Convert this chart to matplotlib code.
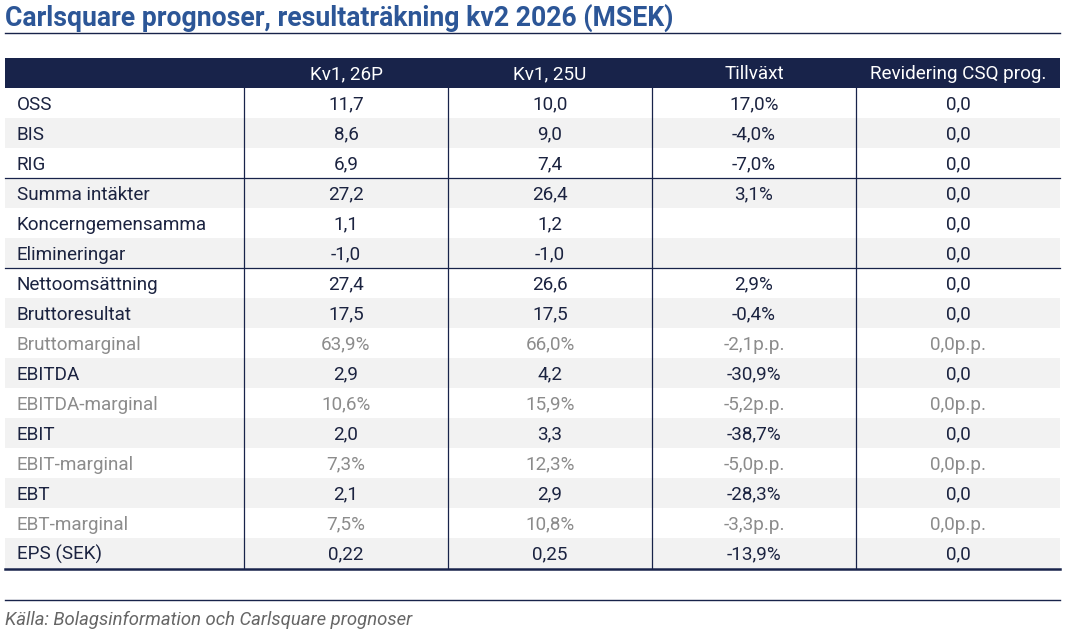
import matplotlib
matplotlib.use("Agg")
import matplotlib.pyplot as plt
from matplotlib.patches import Rectangle

title = "Carlsquare prognoser, resultaträkning kv2 2026 (MSEK)"
source = "Källa: Bolagsinformation och Carlsquare prognoser"
columns = ["Kv1, 26P", "Kv1, 25U", "Tillväxt", "Revidering CSQ prog."]
row_labels = ["OSS", "BIS", "RIG", "Summa intäkter", "Koncerngemensamma", "Elimineringar",
              "Nettoomsättning", "Bruttoresultat", "Bruttomarginal", "EBITDA", "EBITDA-marginal",
              "EBIT", "EBIT-marginal", "EBT", "EBT-marginal", "EPS (SEK)"]
kv1_26p = ["11,7", "8,6", "6,9", "27,2", "1,1", "-1,0", "27,4", "17,5", "63,9%", "2,9", "10,6%",
           "2,0", "7,3%", "2,1", "7,5%", "0,22"]
kv1_25u = ["10,0", "9,0", "7,4", "26,4", "1,2", "-1,0", "26,6", "17,5", "66,0%", "4,2", "15,9%",
           "3,3", "12,3%", "2,9", "10,8%", "0,25"]
tillvaxt = ["17,0%", "-4,0%", "-7,0%", "3,1%", "", "", "2,9%", "-0,4%", "-2,1p.p.", "-30,9%",
            "-5,2p.p.", "-38,7%", "-5,0p.p.", "-28,3%", "-3,3p.p.", "-13,9%"]
revidering = ["0,0", "0,0", "0,0", "0,0", "0,0", "0,0", "0,0", "0,0", "0,0p.p.", "0,0",
              "0,0p.p.", "0,0", "0,0p.p.", "0,0", "0,0p.p.", "0,0"]
grey_rows = ["Bruttomarginal", "EBITDA-marginal", "EBIT-marginal", "EBT-marginal"]
group_breaks = [3, 6]  # line above these row indices

W, H = 1066, 632
fig = plt.figure(figsize=(W / 100, H / 100), dpi=100)
ax = fig.add_axes([0, 0, 1, 1])
ax.set_xlim(0, W)
ax.set_ylim(H, 0)
ax.axis("off")

navy = "#18234A"
text_c = "#1B2340"
grey_c = "#8C8C8C"
stripe = "#F2F2F2"
font = "Roboto"
fs = 13.6

# title
ax.text(5, 18, title, fontsize=19.2, fontweight="bold", color="#2C5697",
        family=font, va="center", ha="left")
ax.plot([5, 1060], [32.5, 32.5], color=navy, lw=1.0)

col_x = [5, 244, 448, 652, 856, 1060]
top = 58
hdr_h = 30
row_h = 30
body_top = top + hdr_h

# header
ax.add_patch(Rectangle((col_x[0], top), col_x[-1] - col_x[0], hdr_h, color=navy, lw=0))
for j, c in enumerate(columns):
    cx = (col_x[j + 1] + col_x[j + 2]) / 2
    ax.text(cx, top + hdr_h / 2 + 1, c, color="white", fontsize=fs, family=font,
            ha="center", va="center")

data_cols = [kv1_26p, kv1_25u, tillvaxt, revidering]
n = len(row_labels)
for i, lab in enumerate(row_labels):
    y0 = body_top + i * row_h
    if i % 2 == 1:
        ax.add_patch(Rectangle((col_x[0], y0), col_x[-1] - col_x[0], row_h,
                               color=stripe, lw=0, zorder=0))
    color = grey_c if lab in grey_rows else text_c
    yc = y0 + row_h / 2 + 1.5
    ax.text(17, yc, lab, color=color, fontsize=fs, family=font, ha="left", va="center")
    for j, col in enumerate(data_cols):
        cx = (col_x[j + 1] + col_x[j + 2]) / 2
        ax.text(cx, yc, col[i], color=color, fontsize=fs, family=font,
                ha="center", va="center")

bottom = body_top + n * row_h
for gb in group_breaks:
    yb = body_top + gb * row_h
    ax.plot([col_x[0], col_x[-1]], [yb, yb], color=navy, lw=0.9, zorder=3)
for xv in col_x[1:-1]:
    ax.plot([xv, xv], [body_top, bottom], color=navy, lw=0.9, zorder=3)
ax.plot([col_x[0], col_x[-1]], [bottom + 1, bottom + 1], color=navy, lw=1.8, zorder=3)

# source
ax.plot([col_x[0], col_x[-1]], [600, 600], color=navy, lw=1.0)
ax.text(5, 620, source, color="#666666", fontsize=13.3, style="italic", family=font,
        ha="left", va="center")

fig.savefig("out.png", dpi=100)
